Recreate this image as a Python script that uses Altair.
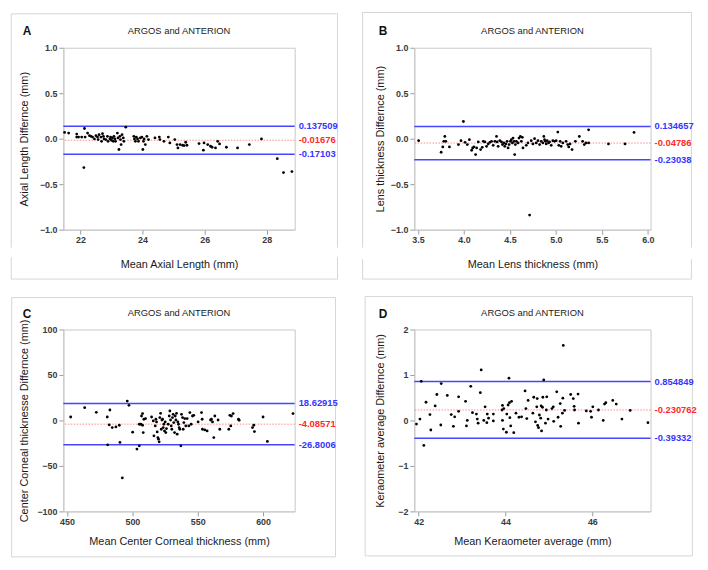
import altair as alt
import pandas as pd

FONT = "Liberation Sans"

# ---------------- Panel A: Axial length ----------------
A_x = [21.49,21.62,21.88,21.88,22.13,22.11,21.94,22.04,22.15,22.23,22.29,22.34,22.39,22.45,22.50,22.55,
       22.57,22.60,22.66,22.68,22.71,22.74,22.76,22.82,22.87,22.89,22.95,22.97,23.00,23.03,23.06,23.08,
       23.11,23.13,23.19,23.21,23.24,23.27,23.29,23.31,23.34,23.38,23.40,23.46,23.72,23.74,23.77,23.80,
       23.84,23.87,23.93,23.98,24.01,24.03,24.05,24.09,24.14,24.19,24.40,24.54,24.56,24.69,24.83,24.88,
       25.04,25.11,25.14,25.21,25.29,25.34,25.39,25.43,25.82,25.96,25.98,26.10,26.19,26.24,26.35,26.42,
       26.48,26.70,27.06,27.44,27.83,28.34,28.54,28.81]
A_y = [0.069,0.062,0.051,0.018,0.112,-0.318,0.018,0.018,0.018,0.062,0.033,0.026,0.018,-0.003,0.033,0.018,
       -0.010,0.044,0.018,-0.029,0.055,0.026,-0.003,-0.010,0.026,-0.029,-0.003,0.018,-0.018,0.008,-0.029,0.026,
       -0.003,-0.029,0.062,0.008,-0.119,0.026,-0.010,-0.065,0.044,0.008,-0.029,0.127,0.026,-0.003,-0.029,0.018,
       -0.003,-0.029,0.008,0.018,-0.119,-0.029,-0.003,-0.065,0.026,-0.010,0.008,0.018,-0.010,-0.029,0.018,-0.047,
       -0.010,-0.065,-0.101,-0.065,-0.072,-0.076,-0.039,-0.072,-0.054,-0.126,-0.047,-0.065,-0.083,-0.094,-0.101,-0.029,
       -0.058,-0.094,-0.101,-0.065,-0.003,-0.220,-0.372,-0.361]
A_lines = [0.137509, -0.01676, -0.17103]
A_labels = ["0.137509", "-0.01676", "-0.17103"]

# ---------------- Panel B: Lens thickness ----------------
B_x = [3.507,3.752,3.770,3.781,3.792,3.803,3.842,3.940,3.968,3.994,4.012,4.037,4.059,4.084,4.095,4.109,
       4.127,4.138,4.156,4.181,4.199,4.210,4.228,4.246,4.264,4.282,4.300,4.318,4.336,4.354,4.361,4.372,
       4.390,4.408,4.419,4.433,4.444,4.455,4.469,4.480,4.491,4.505,4.516,4.527,4.534,4.545,4.552,4.559,
       4.570,4.588,4.599,4.614,4.624,4.635,4.642,4.678,4.696,4.714,4.732,4.750,4.768,4.786,4.805,4.823,
       4.841,4.859,4.869,4.877,4.887,4.895,4.905,4.920,4.931,4.949,4.967,4.985,5.003,5.021,5.032,5.046,
       5.057,5.075,5.111,5.129,5.140,5.154,5.176,5.212,5.255,5.291,5.309,5.327,5.356,5.356,5.572,5.752,5.850]
B_y = [-0.022,-0.149,-0.091,-0.029,0.025,-0.029,-0.091,-0.065,-0.022,0.189,-0.040,-0.065,-0.011,-0.127,-0.102,-0.091,
       -0.175,-0.102,-0.036,-0.120,-0.095,-0.029,-0.036,-0.084,-0.058,-0.040,-0.029,-0.073,-0.029,0.025,-0.036,-0.084,
       -0.022,-0.036,-0.065,-0.047,-0.084,-0.058,-0.029,-0.102,-0.065,-0.029,-0.011,-0.047,0.007,-0.029,-0.175,-0.065,
       -0.029,-0.047,0.007,0.025,-0.029,0.015,-0.102,-0.073,-0.047,-0.840,-0.022,-0.058,0.000,-0.047,-0.022,-0.065,
       -0.029,-0.047,0.025,-0.011,-0.029,-0.058,-0.022,-0.047,-0.036,-0.073,-0.022,-0.029,-0.022,0.073,-0.073,-0.029,
       -0.084,-0.047,-0.029,-0.065,-0.091,-0.058,-0.120,-0.029,0.025,-0.029,-0.065,-0.047,0.098,-0.047,-0.058,-0.058,0.069]
B_lines = [0.134657, -0.04786, -0.23038]
B_labels = ["0.134657", "-0.04786", "-0.23038"]

# ---------------- Panel C: Center corneal thickness ----------------
C_x = [452.8,463.5,472.4,480.8,481.1,482.8,482.3,484.6,487.4,490.0,490.5,492.3,496.1,497.4,500.2,503.5,
       505.3,505.3,506.5,507.0,507.8,507.8,508.3,508.8,510.1,514.7,516.0,516.5,517.5,518.0,518.5,519.0,
       519.5,520.0,520.5,521.0,521.6,522.1,522.6,523.1,523.6,524.1,524.6,525.1,525.6,526.1,527.4,528.2,
       528.7,529.2,529.7,530.2,530.7,531.2,531.7,532.3,532.8,533.3,533.8,534.3,534.8,535.3,535.8,536.3,
       537.1,537.6,538.4,538.9,539.4,540.1,540.9,541.9,543.2,544.0,545.0,546.0,547.0,550.3,552.9,553.4,
       553.6,555.4,557.2,559.8,560.5,561.3,562.3,563.1,565.6,566.9,573.8,574.6,575.3,575.8,577.1,581.2,
       581.7,591.9,592.9,593.4,600.0,603.3,622.9]
C_y = [3.8,14.0,8.9,3.8,-26.8,11.5,-4.9,-7.8,-7.1,-5.3,-24.2,-63.2,21.3,16.6,-12.9,-31.5,
       -27.9,-4.2,-4.2,4.9,7.5,-5.3,-13.3,1.3,2.0,3.8,-0.5,-16.9,-6.0,1.3,-1.6,-12.6,
       -18.8,-20.6,-23.5,3.1,7.8,-9.7,0.5,1.3,-7.8,-4.2,-11.5,-1.6,-13.3,-8.9,-4.2,4.9,
       10.4,0.5,-6.0,-9.7,3.1,6.7,-2.4,-13.3,4.9,0.5,7.8,-15.1,-1.6,-4.2,-7.8,-9.7,
       -27.9,6.7,3.1,-9.7,-2.4,2.0,-6.0,2.0,-6.0,8.6,-4.2,4.9,5.6,-1.6,8.6,1.3,
       -9.7,-10.4,-11.5,0.5,1.3,-1.6,-18.8,4.9,0.5,-9.7,-9.7,5.6,-6.0,4.9,7.5,1.3,
       0.2,-7.8,-5.3,-12.2,3.8,-23.1,7.5]
C_lines = [18.62915, -4.08571, -26.8006]
C_labels = ["18.62915", "-4.08571", "-26.8006"]

# ---------------- Panel D: Keratometer average ----------------
D_x = [41.95,42.03,42.06,42.12,42.17,42.26,42.28,42.38,42.42,42.51,42.52,42.66,42.75,42.80,42.83,42.92,
       42.92,43.08,43.10,43.12,43.20,43.24,43.33,43.35,43.37,43.42,43.44,43.50,43.53,43.57,43.58,43.61,
       43.72,43.72,43.92,43.93,43.93,43.95,43.96,44.02,44.03,44.06,44.08,44.09,44.10,44.12,44.14,44.19,
       44.24,44.31,44.37,44.45,44.47,44.49,44.52,44.63,44.65,44.69,44.72,44.73,44.74,44.76,44.78,44.81,
       44.82,44.83,44.85,44.86,44.88,44.92,44.94,44.95,44.98,45.07,45.10,45.11,45.18,45.21,45.26,45.27,
       45.31,45.32,45.33,45.36,45.50,45.56,45.58,45.59,45.67,45.68,45.86,45.96,45.98,46.01,46.14,46.25,
       46.28,46.31,46.47,46.55,46.68,46.87,47.28]
D_y = [-0.08,0.03,0.86,-0.55,0.40,0.13,-0.21,0.32,0.57,-0.10,0.81,0.55,0.13,-0.13,0.08,0.52,
       0.20,0.42,-0.12,0.00,0.75,0.17,0.14,0.03,-0.06,0.61,1.11,0.00,0.30,-0.05,0.14,0.05,
       0.14,-0.01,0.23,0.33,0.00,-0.19,0.26,-0.26,0.14,0.34,0.93,0.39,0.06,-0.12,0.42,-0.27,
       0.16,0.07,0.08,0.65,0.26,0.04,0.44,0.16,0.51,-0.03,0.30,0.48,-0.11,-0.16,0.12,0.05,
       0.32,-0.23,0.29,0.51,0.89,-0.06,0.23,0.52,0.03,0.26,0.30,-0.02,0.63,0.07,0.37,-0.13,
       0.16,0.49,1.65,0.22,0.57,0.48,0.31,0.23,0.58,-0.06,0.21,0.20,0.07,0.30,0.23,0.00,
       0.36,0.39,0.44,0.36,0.03,0.22,-0.05]
D_lines = [0.854849, 0.230762, -0.39332]
D_labels = ["0.854849", "-0.230762", "-0.39332"]

TITLE = "ARGOS and ANTERION"
BLUE = "#4646ff"
BLUE_TXT = "#3535ff"
RED_LINE = "#ff8a8a"
RED_TXT = "#ff2a2a"
BORDER = "#d6d6d6"

ONE = alt.Data(values=[{"k": 1}])


def panel(xs, ys, lines, labels, letter, xdom, ydom, xticks, yticks, xfmt, yfmt,
          xtitle, ytitle, w, h, box, gap, ytx, xty, let_x, let_y, tit_y):
    n = min(len(xs), len(ys))
    df = pd.DataFrame({"x": xs[:n], "y": ys[:n]})
    ldf = pd.DataFrame({"y": lines, "label": labels, "kind": ["lim", "mean", "lim"]})
    xsc = alt.Scale(domain=xdom, nice=False, zero=False)
    ysc = alt.Scale(domain=ydom, nice=False, zero=False)
    xenc = alt.X("x:Q", scale=xsc, axis=alt.Axis(
        values=xticks, format=xfmt, title=xtitle, titleX=w / 2, titleY=xty,
        titleAlign="center", titleBaseline="middle"))
    yaxis = alt.Axis(values=yticks, format=yfmt, title=ytitle, titleX=ytx, titleY=h / 2,
                     titleAlign="center", titleBaseline="middle", titleAngle=270)
    yenc = alt.Y("y:Q", scale=ysc, axis=yaxis)

    frame = alt.Chart(ONE).mark_rect(fillOpacity=0, stroke=BORDER, strokeWidth=1).encode(
        x=alt.value(box[0]), x2=alt.value(box[1]), y=alt.value(box[2]), y2=alt.value(box[3]))
    layers = [frame]
    if gap:
        layers.append(alt.Chart(ONE).mark_rect(color="white").encode(
            x=alt.value(box[0] - 1), x2=alt.value(box[1] + 1),
            y=alt.value(gap[0]), y2=alt.value(gap[1])))
    letter_t = alt.Chart(ONE).mark_text(align="left", baseline="alphabetic", fontSize=12,
                                        fontWeight="bold", font=FONT, color="#111").encode(
        x=alt.value(let_x), y=alt.value(let_y), text=alt.value(letter))
    title_t = alt.Chart(ONE).mark_text(align="center", baseline="alphabetic", fontSize=9.5,
                                       font=FONT, color="#222").encode(
        x=alt.value(w / 2), y=alt.value(tit_y), text=alt.value(TITLE))
    pts = alt.Chart(df).mark_circle(size=8, color="black", opacity=1).encode(x=xenc, y=yenc)
    lim = alt.Chart(ldf).transform_filter(alt.datum.kind == "lim").mark_rule(
        color=BLUE, strokeWidth=1.5).encode(y=yenc)
    mean = alt.Chart(ldf).transform_filter(alt.datum.kind == "mean").mark_rule(
        color=RED_LINE, strokeWidth=1, strokeDash=[1.5, 1.5]).encode(y=yenc)
    txt = alt.Chart(ldf).mark_text(align="left", baseline="middle", dx=4, fontSize=9.5,
                                   fontWeight="bold", font=FONT).encode(
        x=alt.value(w), y=yenc, text="label:N",
        color=alt.Color("kind:N", scale=alt.Scale(domain=["lim", "mean"],
                                                  range=[BLUE_TXT, RED_TXT]), legend=None))
    layers += [letter_t, title_t, lim, mean, pts, txt]
    return alt.layer(*layers).properties(width=w, height=h)


pA = panel(A_x, A_y, A_lines, A_labels, "A", [21.45, 28.9], [-1, 1], [22, 24, 26, 28],
           [-1, -0.5, 0, 0.5, 1], "d", ".1f", "Mean Axial Length (mm)",
           "Axial Length Differnce (mm)", 234, 184,
           (-52.7, 277.3, -34.3, 234), (202, 212), -39, 35, -41, -13, -14.3)
pB = panel(B_x, B_y, B_lines, B_labels, "B", [3.46, 6.03], [-1, 1], [3.5, 4.0, 4.5, 5.0, 5.5, 6.0],
           [-1, -0.5, 0, 0.5, 1], ".1f", ".1f", "Mean Lens thickness (mm)",
           "Lens thickness Differnce (mm)", 239, 184,
           (-52.3, 280.3, -35.7, 234), (202, 214), -34, 35, -36, -13, -14.3)
pC = panel(C_x, C_y, C_lines, C_labels, "C", [447.2, 624.2], [-100, 100], [450, 500, 550, 600],
           [-100, -50, 0, 50, 100], "d", "d", "Mean Center Corneal thickness (mm)",
           "Center Corneal thicknesse Differnce (mm)", 234, 184,
           (-52.3, 275.3, -32.3, 230), None, -39, 31, -41, -12, -13.3)
pD = panel(D_x, D_y, D_lines, D_labels, "D", [41.9, 47.34], [-2, 2], [42, 44, 46],
           [-2, -1, 0, 1, 2], "d", "d", "Mean Keraometer average (mm)",
           "Keraometer average Differnce (mm)", 239, 184,
           (-49.7, 281.3, -33.3, 229), None, -34, 31, -36, -12, -13.3)

chart = alt.concat(pA, pB, pC, pD, columns=2, spacing={"row": 101, "column": 121},
                   bounds="flush").properties(
    padding={"left": 1, "top": 0, "right": 2, "bottom": 2},
    background="white",
).configure_view(stroke="#c8c8c8", strokeWidth=1).configure_axis(
    grid=False, domainColor="#c8c8c8", tickColor="#9a9a9a", tickSize=4.5, labelPadding=2,
    labelFont=FONT, labelFontSize=9, labelFontWeight="bold", labelColor="#3a3a3a",
    titleFont=FONT, titleFontSize=11, titleFontWeight="normal", titleColor="#1a1a1a")

chart.save("out.html", embed_options={"renderer": "svg", "actions": False})
